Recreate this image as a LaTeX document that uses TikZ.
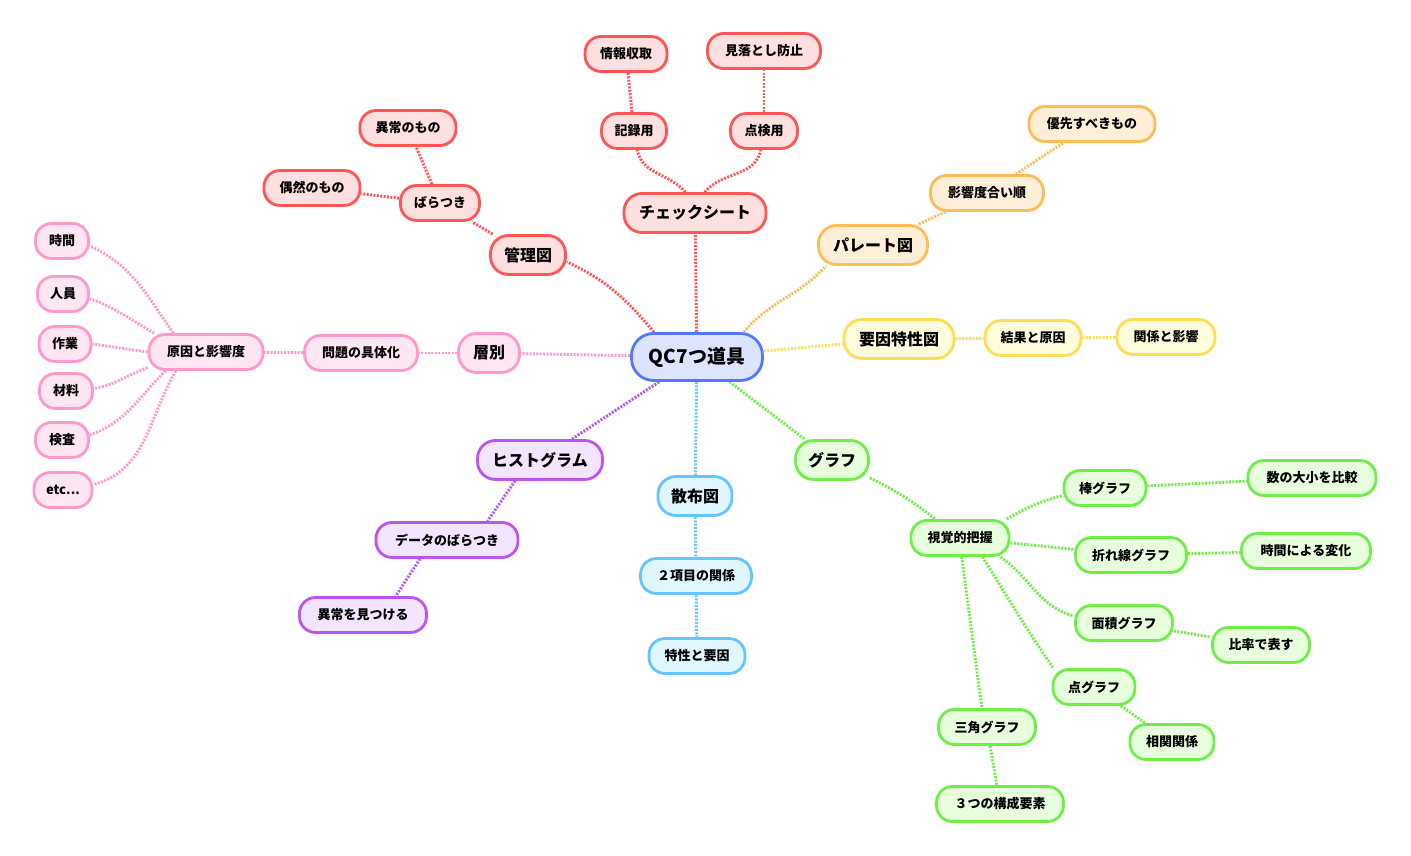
\documentclass[tikz,border=0pt]{standalone}
\usepackage{fontspec}
\setmainfont{Noto Sans CJK JP}
\pgfdeclarelayer{bg}
\pgfsetlayers{bg,main}
\definecolor{rdB}{RGB}{255,85,85}\definecolor{rdF}{RGB}{255,224,224}
\definecolor{orB}{RGB}{255,187,85}\definecolor{orF}{RGB}{255,238,216}
\definecolor{yeB}{RGB}{255,221,85}\definecolor{yeF}{RGB}{255,253,220}
\definecolor{pkB}{RGB}{255,153,204}\definecolor{pkF}{RGB}{255,230,242}
\definecolor{puB}{RGB}{187,85,238}\definecolor{puF}{RGB}{243,228,255}
\definecolor{blB}{RGB}{102,196,255}\definecolor{blF}{RGB}{224,247,255}
\definecolor{grB}{RGB}{110,238,70}\definecolor{grF}{RGB}{232,255,222}
\definecolor{ceB}{RGB}{85,119,255}\definecolor{ceF}{RGB}{221,228,255}
\begin{document}
\begin{tikzpicture}[x=1pt,y=1pt,
  box/.style={rectangle, draw, line width=2.8pt, inner sep=0pt, text=black},
  n0/.style={box, minimum height=47pt, rounded corners=22pt, font=\bfseries\fontsize{19}{22}\selectfont},
  n1/.style={box, minimum height=39pt, rounded corners=18pt, font=\bfseries\fontsize{16}{19}\selectfont},
  n2/.style={box, minimum height=35pt, rounded corners=16pt, font=\bfseries\fontsize{13}{15}\selectfont},
  cR/.style={draw=rdB, fill=rdF}, cO/.style={draw=orB, fill=orF},
  cY/.style={draw=yeB, fill=yeF}, cP/.style={draw=pkB, fill=pkF},
  cU/.style={draw=puB, fill=puF}, cB/.style={draw=blB, fill=blF},
  cG/.style={draw=grB, fill=grF}, cC/.style={draw=ceB, fill=ceF},
  ed/.style={line width=2.9pt, dash pattern=on 2pt off 1.4pt},
  eR/.style={ed, draw=rdB}, eO/.style={ed, draw=orB}, eY/.style={ed, draw=yeB},
  eP/.style={ed, draw=pkB}, eU/.style={ed, draw=puB}, eB/.style={ed, draw=blB},
  eG/.style={ed, draw=grB}]
\useasboundingbox (0,0) rectangle (1411,856);
% center
\node[n0,cC,minimum width=131pt] (c0) at (697,499) {QC7つ道具};
% level 1
\node[n1,cR,minimum width=142pt] (chk) at (695,643) {チェックシート};
\node[n1,cR,minimum width=75pt] (kan) at (528,601) {管理図};
\node[n1,cO,minimum width=109pt] (par) at (873,611) {パレート図};
\node[n1,cY,minimum width=110pt] (yoi) at (899,517) {要因特性図};
\node[n1,cP,minimum width=61pt] (sou) at (489,503) {層別};
\node[n1,cG,minimum width=73pt] (gra) at (832,396) {グラフ};
\node[n1,cU,minimum width=125pt] (his) at (540,396) {ヒストグラム};
\node[n1,cB,minimum width=74pt] (san) at (695,360) {散布図};
% red
\node[n2,cR,minimum width=65pt] (kir) at (634,725) {記録用};
\node[n2,cR,minimum width=67pt] (ten) at (764,725) {点検用};
\node[n2,cR,minimum width=82pt] (jou) at (626,802) {情報収取};
\node[n2,cR,minimum width=113pt] (mio) at (764,805) {見落とし防止};
\node[n2,cR,minimum width=79pt] (bar) at (440,653) {ばらつき};
\node[n2,cR,minimum width=96pt] (ijo) at (408,728) {異常のもの};
\node[n2,cR,minimum width=96pt] (guu) at (312,668) {偶然のもの};
% orange
\node[n2,cO,minimum width=113pt] (eik) at (987,663) {影響度合い順};
\node[n2,cO,minimum width=126pt] (yus) at (1092,732) {優先すべきもの};
% yellow
\node[n2,cY,minimum width=96pt] (kek) at (1033,518) {結果と原因};
\node[n2,cY,minimum width=98pt] (kae) at (1166,519) {関係と影響};
% pink
\node[n2,cP,minimum width=113pt] (mon) at (361,503) {問題の具体化};
\node[n2,cP,minimum width=114pt] (gen) at (206,504) {原因と影響度};
\node[n2,cP,minimum width=53pt] (p1) at (62,615) {時間};
\node[n2,cP,minimum width=51pt] (p2) at (63,562) {人員};
\node[n2,cP,minimum width=52pt] (p3) at (65,512) {作業};
\node[n2,cP,minimum width=53pt] (p4) at (66,465) {材料};
\node[n2,cP,minimum width=53pt] (p5) at (62,416) {検査};
\node[n2,cP,minimum width=58pt] (p6) at (63,366) {etc...};
% purple
\node[n2,cU,minimum width=142pt] (dat) at (447,316) {データのばらつき};
\node[n2,cU,minimum width=127pt] (ijm) at (363,241) {異常を見つける};
% blue
\node[n2,cB,minimum width=111pt] (nik) at (696,280) {２項目の関係};
\node[n2,cB,minimum width=96pt] (tok) at (697,200) {特性と要因};
% green
\node[n2,cG,minimum width=98pt] (shi) at (960,318) {視覚的把握};
\node[n2,cG,minimum width=82pt] (bou) at (1105,368) {棒グラフ};
\node[n2,cG,minimum width=128pt] (suu) at (1312,378) {数の大小を比較};
\node[n2,cG,minimum width=111pt] (ore) at (1131,301) {折れ線グラフ};
\node[n2,cG,minimum width=129pt] (jik) at (1306,305) {時間による変化};
\node[n2,cG,minimum width=97pt] (men) at (1124,233) {面積グラフ};
\node[n2,cG,minimum width=97pt] (hir) at (1261,211) {比率で表す};
\node[n2,cG,minimum width=82pt] (tgr) at (1094,169) {点グラフ};
\node[n2,cG,minimum width=84pt] (sok) at (1172,114) {相関関係};
\node[n2,cG,minimum width=97pt] (sgr) at (987,129) {三角グラフ};
\node[n2,cG,minimum width=127pt] (kou) at (1000,52) {３つの構成要素};
\begin{pgfonlayer}{bg}
% center edges
\draw[eR] (c0) -- (chk);
\draw[eR] (c0.150) to[out=130, in=-25] (kan.-10);
\draw[eO] (c0.28) to[out=50, in=-132] (par.-156);
\draw[eY] (c0) -- (yoi);
\draw[eP] (c0) -- (sou);
\draw[eG] (c0) -- (gra);
\draw[eU] (c0) -- (his);
\draw[eB] (c0) -- (san);
% red
\draw[eR] (chk.115) to[out=130, in=-80] (kir.-80);
\draw[eR] (chk.65) to[out=50, in=-100] (ten.-100);
\draw[eR] (kir) -- (jou);
\draw[eR] (ten) -- (mio);
\draw[eR] (kan) -- (bar);
\draw[eR] (bar) -- (ijo);
\draw[eR] (bar) -- (guu);
% orange
\draw[eO] (par) -- (eik);
\draw[eO] (eik) -- (yus);
% yellow
\draw[eY] (yoi) -- (kek);
\draw[eY] (kek) -- (kae);
% pink
\draw[eP] (sou) -- (mon);
\draw[eP] (mon) -- (gen);
\draw[eP] (gen.150) to[out=125, in=-25] (p1.-10);
\draw[eP] (gen.160) to[out=150, in=-20] (p2.-10);
\draw[eP] (gen.west) -- (p3.east);
\draw[eP] (gen.195) to[out=200, in=10] (p4.5);
\draw[eP] (gen.205) to[out=225, in=20] (p5.10);
\draw[eP] (gen.212) to[out=240, in=15] (p6.10);
% purple
\draw[eU] (his.-140) -- (dat.25);
\draw[eU] (dat.-145) -- (ijm.30);
% blue
\draw[eB] (san) -- (nik);
\draw[eB] (nik) -- (tok);
% green
\draw[eG] (gra) to[bend left=6] (shi);
\draw[eG] (shi.22) to[out=30, in=195] (bou.190);
\draw[eG] (shi) -- (ore);
\draw[eG] (shi.-25) to[out=-35, in=165] (men.172);
\draw[eG] (shi.-40) to[out=-58, in=125] (tgr.155);
\draw[eG] (shi.-85) -- (sgr.105);
\draw[eG] (bou) -- (suu);
\draw[eG] (ore) -- (jik);
\draw[eG] (men) -- (hir);
\draw[eG] (tgr) -- (sok);
\draw[eG] (sgr) -- (kou);
\end{pgfonlayer}
\end{tikzpicture}
\end{document}
